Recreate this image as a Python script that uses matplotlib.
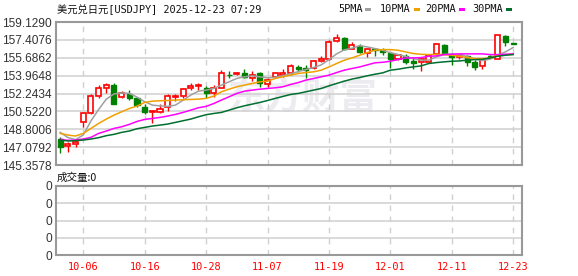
import matplotlib
matplotlib.use("Agg")
import matplotlib.pyplot as plt
from matplotlib.patches import Rectangle
import numpy as np

# ---------------- data ----------------
dates = ["10-01", "10-02", "10-03", "10-06", "10-07", "10-08", "10-09", "10-10",
         "10-13", "10-14", "10-15", "10-16", "10-17", "10-20", "10-21", "10-22",
         "10-23", "10-24", "10-27", "10-28", "10-29", "10-30", "10-31", "11-03",
         "11-04", "11-05", "11-06", "11-07", "11-10", "11-11", "11-12", "11-13",
         "11-14", "11-17", "11-18", "11-19", "11-20", "11-21", "11-24", "11-25",
         "11-26", "11-27", "11-28", "12-01", "12-02", "12-03", "12-04", "12-05",
         "12-08", "12-09", "12-10", "12-11", "12-12", "12-15", "12-16", "12-17",
         "12-18", "12-19", "12-22", "12-23"]

open_ = [147.83, 147.22, 147.38, 149.52, 150.39, 152.02, 152.82, 153.05, 151.93, 152.18,
         151.77, 150.96, 150.48, 150.48, 150.90, 151.93, 152.02, 152.79, 152.95, 152.82,
         152.25, 152.82, 154.04, 154.14, 154.26, 153.75, 154.17, 153.17, 153.85, 154.01,
         154.26, 154.80, 154.71, 154.71, 155.35, 155.54, 157.34, 157.60, 156.57, 156.86,
         156.19, 156.51, 156.40, 156.19, 155.61, 155.86, 155.42, 155.25, 155.29, 156.09,
         156.89, 155.93, 155.77, 155.83, 155.29, 154.87, 155.85, 155.61, 157.76, 157.08]
high = [148.08, 147.60, 147.76, 150.42, 152.15, 153.05, 153.30, 153.30, 152.47, 152.57,
        151.93, 151.28, 150.58, 151.19, 152.15, 152.15, 152.79, 153.21, 153.30, 152.98,
        153.05, 154.49, 154.39, 154.33, 154.65, 154.39, 154.33, 153.69, 154.33, 154.65,
        155.13, 155.03, 154.97, 155.45, 155.87, 157.37, 158.01, 157.66, 157.21, 157.05,
        156.63, 156.63, 156.63, 156.25, 156.09, 156.00, 155.70, 155.68, 156.09, 157.08,
        156.99, 156.19, 156.19, 155.93, 155.45, 155.61, 155.93, 157.88, 157.85, 157.15]
low = [146.48, 146.64, 147.12, 149.04, 150.23, 151.83, 152.25, 151.19, 151.83, 151.61,
       150.96, 150.23, 149.43, 150.32, 150.55, 151.51, 151.83, 152.57, 152.57, 151.83,
       151.93, 152.73, 153.69, 154.07, 153.69, 153.43, 152.89, 152.89, 153.69, 153.85,
       154.07, 154.33, 153.69, 154.65, 155.23, 155.45, 157.21, 156.44, 156.51, 156.19,
       155.77, 155.86, 155.93, 154.68, 155.51, 155.13, 154.65, 154.45, 155.17, 155.99,
       156.03, 155.03, 155.61, 154.90, 154.49, 154.65, 155.70, 155.55, 156.83, 156.98]
close = [147.12, 147.35, 147.54, 150.32, 151.99, 152.73, 153.11, 151.25, 152.31, 151.83,
         151.13, 150.42, 150.58, 150.74, 151.99, 151.99, 152.66, 152.98, 153.05, 152.25,
         152.73, 154.17, 153.98, 154.26, 153.85, 154.07, 153.30, 153.53, 154.17, 154.26,
         154.87, 154.65, 154.55, 155.35, 155.61, 157.21, 157.60, 156.51, 156.95, 156.22,
         156.51, 156.41, 156.28, 155.54, 155.93, 155.32, 155.20, 155.52, 155.99, 156.97,
         156.12, 155.77, 155.93, 155.29, 154.81, 155.51, 155.80, 157.85, 157.21, 157.05]

ma5 = [148.50, 148.00, 147.80, 148.25, 149.60, 150.70, 151.70, 152.20, 152.30, 152.25,
       151.90, 151.45, 151.13, 151.05, 151.00, 151.12, 151.60, 152.09, 152.47, 152.57,
       152.73, 153.05, 153.37, 153.69, 153.85, 153.94, 153.85, 153.75, 153.80, 153.95,
       154.15, 154.35, 154.55, 154.75, 155.00, 155.50, 156.06, 156.45, 156.60, 156.85,
       156.73, 156.57, 156.41, 156.17, 156.00, 155.80, 155.60, 155.45, 155.45, 155.77,
       155.99, 156.05, 156.00, 155.80, 155.55, 155.42, 155.55, 155.95, 156.25, 156.67]
ma10 = [148.40, 148.24, 148.15, 148.40, 148.88, 149.36, 149.78, 150.16, 150.48, 150.80,
        151.03, 151.38, 151.51, 151.54, 151.57, 151.61, 151.64, 151.67, 151.70, 151.77,
        151.99, 152.41, 152.66, 152.89, 153.05, 153.21, 153.37, 153.43, 153.69, 153.85,
        154.01, 154.17, 154.26, 154.33, 154.49, 154.80, 155.13, 155.45, 155.67, 155.93,
        156.19, 156.41, 156.47, 156.47, 156.41, 156.25, 156.09, 156.02, 155.99, 156.02,
        155.99, 155.93, 155.83, 155.70, 155.61, 155.61, 155.67, 155.93, 155.99, 156.02]
ma20 = [147.83, 147.73, 147.76, 147.86, 148.02, 148.40, 148.63, 148.88, 149.04, 149.27,
        149.55, 149.75, 149.84, 149.94, 150.07, 150.23, 150.42, 150.64, 150.87, 151.00,
        151.28, 151.61, 151.93, 152.25, 152.47, 152.57, 152.66, 152.73, 152.79, 152.89,
        153.11, 153.30, 153.53, 153.69, 153.85, 154.01, 154.26, 154.49, 154.65, 154.80,
        155.00, 155.20, 155.25, 155.35, 155.51, 155.67, 155.67, 155.70, 155.83, 155.86,
        155.99, 156.02, 156.06, 156.06, 156.06, 156.06, 155.99, 155.99, 156.02, 156.06]
ma30 = [147.76, 147.67, 147.70, 147.76, 147.86, 147.99, 148.18, 148.31, 148.50, 148.63,
        148.85, 148.98, 149.11, 149.20, 149.30, 149.46, 149.62, 149.78, 150.00, 150.20,
        150.32, 150.42, 150.64, 150.87, 151.06, 151.22, 151.38, 151.57, 151.77, 151.96,
        152.15, 152.25, 152.41, 152.57, 152.73, 152.98, 153.21, 153.43, 153.63, 153.78,
        153.95, 154.10, 154.23, 154.49, 154.58, 154.71, 154.81, 154.90, 155.13, 155.22,
        155.29, 155.35, 155.38, 155.45, 155.51, 155.54, 155.67, 155.83, 155.93, 155.99]

price_ticks = [145.3578, 147.0792, 148.8006, 150.5220, 152.2434,
               153.9648, 155.6862, 157.4076, 159.1290]
date_ticks = ["10-06", "10-16", "10-28", "11-07", "11-19", "12-01", "12-11", "12-23"]
volume = [0] * len(dates)

title = "美元兑日元[USDJPY] 2025-12-23 07:29"
ma_names = ["5PMA", "10PMA", "20PMA", "30PMA"]

# ---------------- style ----------------
W, H = 578, 276
UP = "#ff0000"
DOWN = "#008000"
MA_COLORS = ["#a0a0a0", "#f0a000", "#ff00ff", "#006f30"]
GRID = "#d0d0d0"
BORDER = "#999999"
LABEL = "#333333"
MONO = ["DejaVu Sans Mono", "Noto Sans CJK SC"]
CJK = ["Noto Sans CJK SC", "DejaVu Sans"]

fig = plt.figure(figsize=(W / 100, H / 100), dpi=100)
fig.patch.set_facecolor("white")


def fx(x):
    return x / W


def fy(y):
    return 1 - y / H


L, R = 56, 522
ax = fig.add_axes([fx(L), fy(165), fx(R) - fx(L), fy(22) - fy(165)])
axv = fig.add_axes([fx(L), fy(255), fx(R) - fx(L), fy(186) - fy(255)])

n = len(dates)
xs = np.arange(n)
xlim = (-0.55, 60.15)
tick_pos = [dates.index(d) for d in date_ticks]

# watermark
ax.text(0.53, 0.47, "东方财富", transform=ax.transAxes, fontsize=27,
        family=CJK, fontweight="bold", color="#ececf0", ha="center",
        va="center", zorder=0.5, style="italic")

# candles
bw = 0.66
for i in range(n):
    o, h, l, c = open_[i], high[i], low[i], close[i]
    up = c >= o
    col = UP if up else DOWN
    top, bot = max(o, c), min(o, c)
    ax.vlines(i, top, h, color=col, lw=1, zorder=3)
    ax.vlines(i, l, bot, color=col, lw=1, zorder=3)
    hgt = max(top - bot, 0.02)
    if up:
        ax.add_patch(Rectangle((i - bw / 2, bot), bw, hgt, facecolor="white",
                               edgecolor=col, lw=1.2, zorder=4))
    else:
        ax.add_patch(Rectangle((i - bw / 2, bot), bw, hgt, facecolor=col,
                               edgecolor=col, lw=1.0, zorder=4))

for vals, col in zip([ma5, ma10, ma20, ma30], MA_COLORS):
    ax.plot(xs, vals, color=col, lw=1.1, zorder=5)

ax.set_xlim(*xlim)
ax.set_ylim(price_ticks[0], price_ticks[-1])
ax.set_yticks(price_ticks)
ax.set_yticklabels([f"{v:.4f}" for v in price_ticks])
ax.set_xticks(tick_pos)
ax.set_xticklabels([])
ax.tick_params(axis="both", length=0, pad=3)
ax.tick_params(axis="y", labelsize=8.6, labelcolor=LABEL)
for lab in ax.get_yticklabels():
    lab.set_fontfamily("Liberation Sans")
ax.yaxis.grid(True, color=GRID, lw=1.1, ls="-", zorder=0)
ax.xaxis.grid(True, color=GRID, lw=1.0, ls=(0, (4, 4)), zorder=0)
ax.set_axisbelow(True)
for s in ax.spines.values():
    s.set_color(BORDER)
    s.set_linewidth(1.5)

# volume panel
axv.bar(xs, volume, color=UP, width=bw)
axv.set_xlim(*xlim)
axv.set_ylim(0, 4)
axv.set_yticks([0, 1, 2, 3, 4])
axv.set_yticklabels(["0"] * 5)
axv.set_xticks(tick_pos)
axv.set_xticklabels(date_ticks, color=UP, fontsize=7.4, family=MONO)
axv.tick_params(axis="both", length=0)
axv.tick_params(axis="x", pad=5)
axv.tick_params(axis="y", labelsize=8.6, labelcolor=LABEL, pad=3)
for lab in axv.get_yticklabels():
    lab.set_fontfamily("Liberation Sans")
axv.yaxis.grid(True, color=GRID, lw=1.1, ls="-")
axv.xaxis.grid(True, color=GRID, lw=1.0, ls=(0, (4, 4)))
axv.set_axisbelow(True)
for s in axv.spines.values():
    s.set_color(BORDER)
    s.set_linewidth(1.5)

# title & legend
fig.text(fx(57), fy(9.5), title, fontsize=7.4, family=MONO, color="#111111",
         ha="left", va="center")
fig.text(fx(57), fy(178), "成交量:0", fontsize=7.6, family=CJK, color="#111111",
         ha="left", va="center")

leg_x = [338, 380, 425, 472]
for name, col, x0 in zip(ma_names, MA_COLORS, leg_x):
    t = fig.text(fx(x0), fy(9.5), name, fontsize=7.4, family=MONO,
                 color="#111111", ha="left", va="center")
    tw = len(name) * 6.1
    fig.patches.append(Rectangle((fx(x0 + tw + 3), fy(11)), 6 / W, 3 / H,
                                 transform=fig.transFigure, facecolor=col,
                                 edgecolor="none"))

fig.savefig("out.png", dpi=100, facecolor="white")
